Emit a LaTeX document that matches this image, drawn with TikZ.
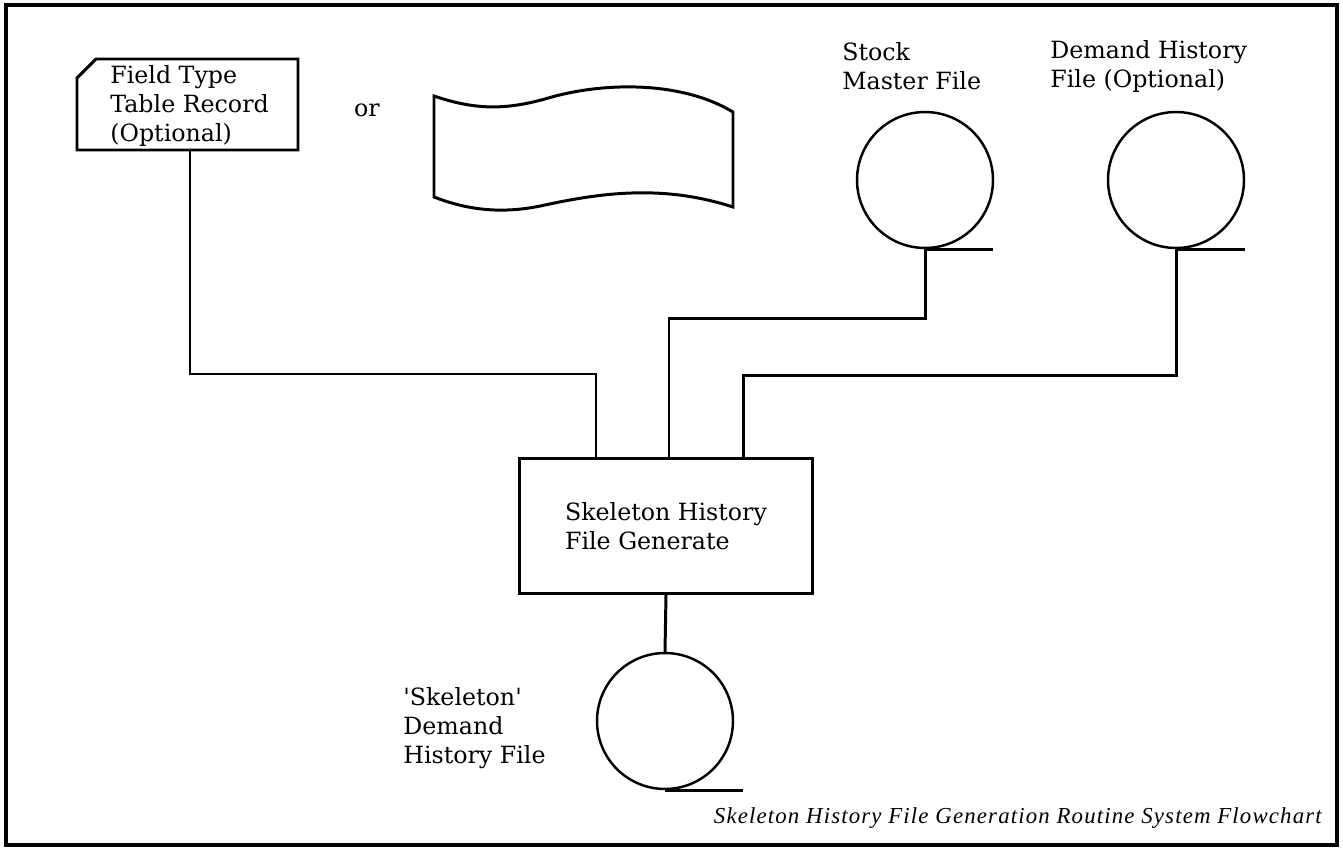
\documentclass[tikz,border=0pt]{standalone}
\usepackage{fontspec}
\setmainfont{DejaVu Serif}
\newfontfamily\capfont[LetterSpace=5]{Liberation Serif}
\usetikzlibrary{calc,positioning}

\tikzset{
  wire/.style={line width=1.7pt},
  reel/.style={circle,draw,line width=1.4pt,minimum size=2.72cm,inner sep=0pt},
  proc/.style={rectangle,draw,line width=1.7pt,minimum width=5.88cm,minimum height=2.7cm,
               font=\fontsize{13.5}{16.5}\selectfont,align=left},
  txt/.style={font=\fontsize{13.5}{16.5}\selectfont,align=left,inner sep=0pt}
}

\begin{document}
\begin{tikzpicture}[x=0.02cm,y=-0.02cm]
  \useasboundingbox (0,0) rectangle (1343,848);
  % Frame
  \draw[line width=1.9pt] (6,5) rectangle (1337,845);

  % Card input
  \draw[wire] (77,78) -- (96,59) -- (298,59) -- (298,150) -- (77,150) -- cycle;
  \node[txt,anchor=west] (cardtxt) at (110,106) {Field Type\\Table Record\\(Optional)};
  \coordinate (cardout) at (190,150);
  \node[txt] (or) at (367,110) {or};

  % Paper tape
  \draw[wire] (434,96) .. controls (475,110) and (505,110) .. (545,99)
              .. controls (600,82) and (680,80) .. (733,112)
              -- (733,207)
              .. controls (665,185) and (605,192) .. (545,205)
              .. controls (505,214) and (470,211) .. (434,197) -- cycle;

  % Input files
  \node[reel] (stock) at (925,180) {};
  \node[reel] (demand) at (1176,180) {};
  \node[txt,anchor=west] (stocktxt) at (842,66) {Stock\\Master File};
  \node[txt,anchor=west] (demandtxt) at (1050,66) {Demand History\\File (Optional)};
  \draw[wire] (stock.south) -- ++(68,0);
  \draw[wire] (demand.south) -- ++(69,0);

  % Process
  \node[proc] (box) at (666,526) {Skeleton History\\File Generate};

  % Output file
  \node[reel] (skel) at (665,721) {};
  \draw[wire] (skel.south) -- ++(78,0);
  \node[txt,anchor=west] (skeltxt) at (403,728) {\textquotesingle Skeleton\textquotesingle\\Demand\\History File};

  % Connectors
  \draw[wire] (cardout) -- ++(0,224) -| ($(box.north)+(-70,0)$);
  \draw[wire] (stock.south) -- ++(0,69) -| ($(box.north)+(3,0)$);
  \draw[wire] (demand.south) -- ++(0,126) -| ($(box.north)+(77,0)$);
  \draw[wire] (box.south) -- (skel.north);

  % Caption
  \node[anchor=east,inner sep=0pt,font=\capfont\itshape\fontsize{13}{15}\selectfont] (cap) at (1322,818)
    {Skeleton History File Generation Routine System Flowchart};
\end{tikzpicture}
\end{document}
